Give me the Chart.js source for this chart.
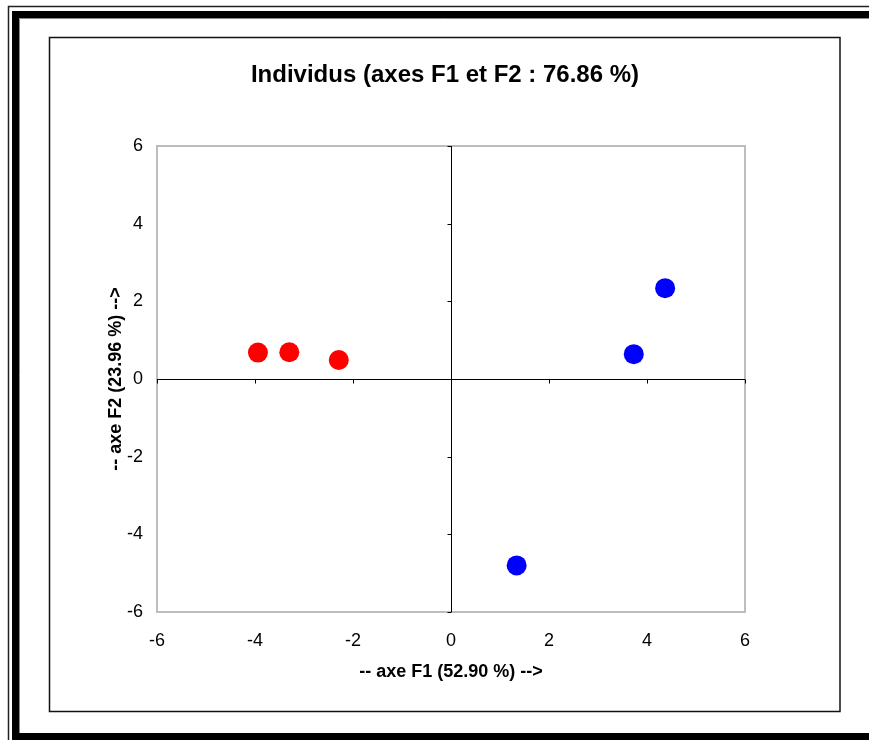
<!DOCTYPE html>
<html>
<head>
<meta charset="utf-8">
<script src="https://cdn.jsdelivr.net/npm/chart.js@4/dist/chart.umd.min.js"></script>
<style>
  html, body { margin: 0; padding: 0; background: #fff; }
  #wrap { width: 869px; height: 740px; position: relative; }
</style>
</head>
<body>
<div id="wrap"><canvas id="c" width="869" height="740"></canvas></div>
<script>
const chartTitle = 'Individus (axes F1 et F2 : 76.86 %)';
const xAxisTitle = '-- axe F1 (52.90 %) -->';
const yAxisTitle = '-- axe F2 (23.96 %) -->';
const xTicks = [-6, -4, -2, 0, 2, 4, 6];
const yTicks = [-6, -4, -2, 0, 2, 4, 6];
const groupA_F1 = [-3.94, -3.30, -2.29];
const groupA_F2 = [0.68, 0.69, 0.49];
const groupB_F1 = [4.37, 3.73, 1.34];
const groupB_F2 = [2.34, 0.64, -4.80];

const FONT = "'Liberation Sans', Arial, sans-serif";
Chart.defaults.font.family = FONT;
Chart.defaults.color = '#000';

const toPoints = (xs, ys) => xs.map((x, i) => ({ x: x, y: ys[i] }));

const framePlugin = {
  id: 'frame',
  beforeDraw(chart) {
    const ctx = chart.ctx;
    ctx.save();
    ctx.fillStyle = '#fff';
    ctx.fillRect(0, 0, chart.width, chart.height);
    // outer thin line
    ctx.strokeStyle = '#222';
    ctx.lineWidth = 1.5;
    ctx.beginPath();
    ctx.moveTo(8.5, chart.height + 5);
    ctx.lineTo(8.5, 6.5);
    ctx.lineTo(chart.width + 5, 6.5);
    ctx.stroke();
    // thick black frame
    ctx.fillStyle = '#000';
    ctx.fillRect(12, 11, chart.width, 7);      // top
    ctx.fillRect(12, 11, 7, chart.height);     // left
    ctx.fillRect(12, 733, chart.width, 10);    // bottom
    // inner gray edge
    ctx.strokeStyle = '#888';
    ctx.lineWidth = 1;
    ctx.beginPath();
    ctx.moveTo(19.5, 733);
    ctx.lineTo(19.5, 18.5);
    ctx.lineTo(chart.width, 18.5);
    ctx.stroke();
    // chart area box
    ctx.strokeStyle = '#111';
    ctx.lineWidth = 1.5;
    ctx.strokeRect(49.5, 37.5, 790.5, 674);
    // plot area border
    const a = chart.chartArea;
    ctx.strokeStyle = '#bdbdbd';
    ctx.lineWidth = 2;
    ctx.strokeRect(a.left, a.top, a.right - a.left, a.bottom - a.top);
    // zero axes
    const xs = chart.scales.x, ys = chart.scales.y;
    const x0 = Math.round(xs.getPixelForValue(0)) + 0.5;
    const y0 = Math.round(ys.getPixelForValue(0)) + 0.5;
    ctx.strokeStyle = '#000';
    ctx.lineWidth = 1;
    ctx.beginPath();
    ctx.moveTo(a.left, y0); ctx.lineTo(a.right, y0);
    ctx.moveTo(x0, a.top); ctx.lineTo(x0, a.bottom);
    xTicks.forEach(v => {
      const px = Math.round(xs.getPixelForValue(v)) + 0.5;
      ctx.moveTo(px, y0); ctx.lineTo(px, y0 + 4);
    });
    yTicks.forEach(v => {
      const py = Math.round(ys.getPixelForValue(v)) + 0.5;
      ctx.moveTo(x0 - 4, py); ctx.lineTo(x0, py);
    });
    ctx.stroke();
    ctx.restore();
  }
};

new Chart(document.getElementById('c'), {
  type: 'scatter',
  data: {
    datasets: [
      { label: 'A', data: toPoints(groupA_F1, groupA_F2), backgroundColor: '#ff0000', borderWidth: 0, pointRadius: 10, pointHoverRadius: 10 },
      { label: 'B', data: toPoints(groupB_F1, groupB_F2), backgroundColor: '#0000ff', borderWidth: 0, pointRadius: 10, pointHoverRadius: 10 }
    ]
  },
  options: {
    responsive: false,
    animation: false,
    events: [],
    layout: { autoPadding: false, padding: { left: 50, top: 38, right: 29, bottom: 28 } },
    plugins: {
      legend: { display: false },
      tooltip: { enabled: false },
      title: {
        display: true,
        text: chartTitle,
        font: { size: 24, weight: 'bold', family: FONT },
        color: '#000',
        padding: { top: 23, bottom: 56.2 }
      }
    },
    scales: {
      x: {
        type: 'linear', position: 'bottom', min: -6, max: 6,
        afterBuildTicks: s => { s.ticks = xTicks.map(v => ({ value: v })); },
        afterFit: s => { s.height = 100; },
        grid: { display: false, drawTicks: false },
        border: { display: false },
        ticks: { font: { size: 18, family: FONT }, padding: 18, color: '#000', maxRotation: 0 },
        title: { display: true, text: xAxisTitle, font: { size: 18, weight: 'bold', family: FONT }, color: '#000', padding: { top: 0, bottom: 29 } }
      },
      y: {
        type: 'linear', position: 'left', min: -6, max: 6,
        afterBuildTicks: s => { s.ticks = yTicks.map(v => ({ value: v })); },
        afterFit: s => { s.width = 107; },
        grid: { display: false, drawTicks: false },
        border: { display: false },
        ticks: { font: { size: 18, family: FONT }, padding: 14, color: '#000' },
        title: { display: true, text: yAxisTitle, font: { size: 18, weight: 'bold', family: FONT }, color: '#000', padding: { top: 55, bottom: 0 } }
      },
      yRight: {
        type: 'linear', position: 'right', display: true, min: -6, max: 6,
        afterFit: s => { s.width = 95; },
        grid: { display: false, drawTicks: false },
        border: { display: false },
        ticks: { display: false }
      }
    }
  },
  plugins: [framePlugin]
});
</script>
</body>
</html>
